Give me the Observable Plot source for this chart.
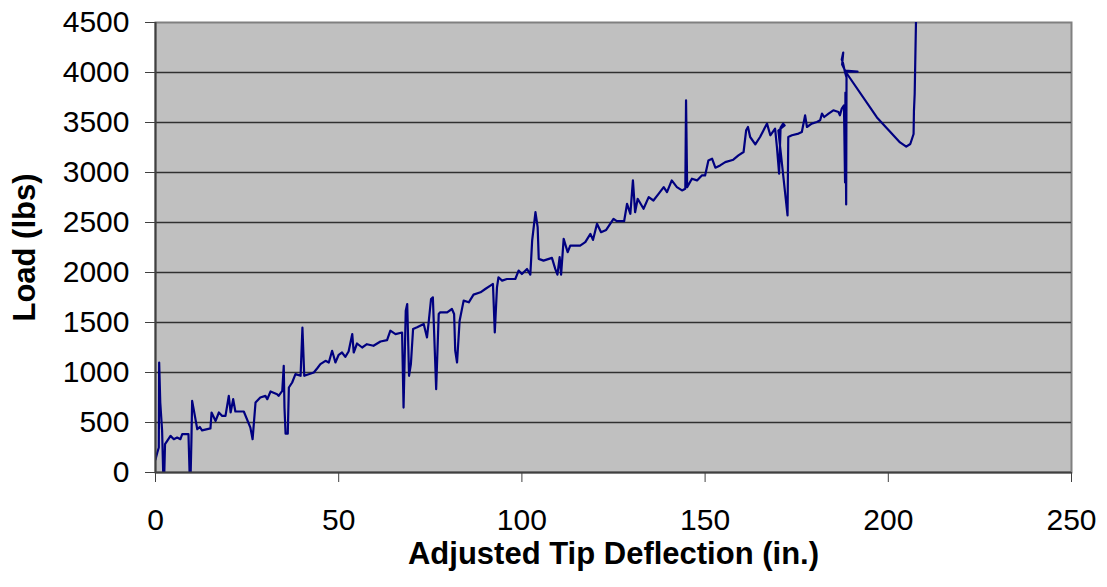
<!DOCTYPE html>
<html><head><meta charset="utf-8">
<script src="https://cdn.jsdelivr.net/npm/d3@7"></script>
<script src="https://cdn.jsdelivr.net/npm/@observablehq/plot@0.6"></script>
<style>body{margin:0;background:#fff;}</style>
</head><body><div id="chart"></div>
<script>
const deflection = [0,0.5,0.9,1.0,1.3,1.8,2.1,2.4,2.6,3.2,4.1,5.0,5.9,6.8,7.3,9.0,9.3,9.6,9.8,10.0,10.5,11.4,12.1,12.7,15.0,15.3,16.4,17.3,18.2,19.1,20.0,20.5,21.2,21.8,24.1,25.9,26.5,27.3,28.6,30.0,30.5,31.4,33.2,33.6,34.6,35.0,35.2,35.5,36.1,36.4,37.3,38.2,39.6,40.1,40.6,43.2,44.1,45.0,46.4,47.3,48.2,48.6,49.1,50.0,50.9,51.8,52.7,53.7,54.1,55.0,56.4,57.7,59.5,61.4,63.2,64.1,65.5,67.3,67.7,68.3,68.7,69.2,69.7,70.3,71.4,73.2,74.1,74.6,75.2,75.7,76.6,77.3,77.7,79.6,80.9,81.5,81.8,82.3,83.0,84.1,85.5,86.8,88.7,90.0,91.4,92.1,92.6,93.2,93.6,94.6,95.9,98.2,99.1,100.0,101.4,102.3,102.8,103.7,104.3,104.6,105.9,108.2,109.1,109.7,110.3,110.7,111.4,112.5,113.2,115.9,117.3,118.7,119.4,120.5,121.6,123.0,125.0,125.9,127.9,128.7,129.6,130.3,130.9,131.6,133.2,134.6,135.9,137.3,138.7,139.6,140.9,142.3,143.7,144.6,144.8,145.1,146.4,147.8,149.1,150.0,150.9,151.9,152.8,154.1,155.5,157.7,159.1,160.5,161.2,161.7,162.3,163.7,165.0,166.4,166.9,167.8,169.1,169.6,170.2,170.6,171.3,171.7,170.0,172.5,172.7,173.7,175.5,176.4,177.3,177.8,179.1,180.5,181.4,181.9,182.5,183.7,185.0,186.4,186.8,187.3,187.9,188.2,188.3,188.5,188.6,188.2,187.6,187.3,187.7,187.4,188.2,191.6,188.3,196.9,203.2,204.9,206.0,206.9,207.0,207.2,207.6];
const load = [130,200,250,1100,700,420,0,0,283,316,366,333,350,333,383,383,0,0,316,716,616,433,455,421,441,600,516,600,566,566,766,600,733,610,610,449,333,700,750,766,733,810,783,766,816,1067,650,389,389,850,900,984,967,1450,967,1000,1040,1083,1117,1100,1217,1167,1100,1177,1200,1157,1210,1385,1200,1290,1250,1283,1267,1310,1323,1418,1384,1400,649,1618,1685,967,1083,1435,1452,1485,1351,1518,1735,1752,834,1585,1602,1602,1635,1585,1218,1100,1518,1719,1702,1779,1802,1835,1869,1885,1401,1852,1952,1919,1935,1935,2019,1985,2035,1979,2320,2603,2453,2136,2119,2146,2036,1979,2153,1979,2336,2203,2269,2269,2303,2386,2326,2487,2403,2426,2537,2513,2513,2687,2587,2921,2603,2737,2637,2754,2720,2787,2854,2804,2921,2854,2821,2837,3722,2854,2938,2921,2971,2971,3121,3138,3048,3071,3104,3128,3171,3205,3422,3455,3355,3282,3355,3455,3489,3372,3439,3255,2988,3450,3489,3470,3420,2570,3355,3372,3389,3405,3572,3455,3489,3505,3522,3589,3555,3589,3622,3605,3572,3639,3672,2900,3800,2680,3950,4000,4100,4130,4200,4080,4020,4008,4010,3551,3301,3258,3285,3385,3618,3785,4600];
const xTicks = [0, 50, 100, 150, 200, 250];
const yTicks = [0, 500, 1000, 1500, 2000, 2500, 3000, 3500, 4000, 4500];
const xLabel = "Adjusted Tip Deflection (in.)";
const yLabel = "Load (lbs)";

const data = deflection.map((d, i) => ({x: d, y: load[i]}));

const chart = Plot.plot({
  width: 1107, height: 587,
  marginLeft: 155, marginRight: 36, marginTop: 22, marginBottom: 115,
  style: {fontFamily: "'Liberation Sans', Arial, sans-serif", fontSize: "30px", color: "#000", background: "#fff"},
  x: {domain: [0, 250]},
  y: {domain: [0, 4500]},
  marks: [
    Plot.frame({fill: "#c0c0c0", stroke: "#808080", strokeWidth: 2}),
    Plot.ruleY(yTicks.slice(1, -1), {stroke: "#303030", strokeWidth: 1.3}),
    Plot.line(data, {x: "x", y: "y", stroke: "#000080", strokeWidth: 2.2, clip: true}),
    Plot.ruleX([0], {stroke: "#404040", strokeWidth: 2}),
    Plot.ruleY([0], {stroke: "#404040", strokeWidth: 2}),
    Plot.axisX(xTicks, {tickSize: 10, tickPadding: 26, label: null, stroke: "#404040", fontSize: 30, tickFormat: d => String(d)}),
    Plot.axisY(yTicks, {tickSize: 10, tickPadding: 16, label: null, stroke: "#404040", fontSize: 30, tickFormat: d => String(d)}),
    Plot.text([xLabel], {frameAnchor: "bottom", textAnchor: "middle", lineAnchor: "middle", dy: 82, fontWeight: "bold", fontSize: 31, fill: "#000"}),
    Plot.text([yLabel], {frameAnchor: "left", textAnchor: "middle", lineAnchor: "middle", dx: -130, rotate: -90, fontWeight: "bold", fontSize: 31, fill: "#000"})
  ]
});
document.getElementById("chart").appendChild(chart);
</script>
</body></html>
